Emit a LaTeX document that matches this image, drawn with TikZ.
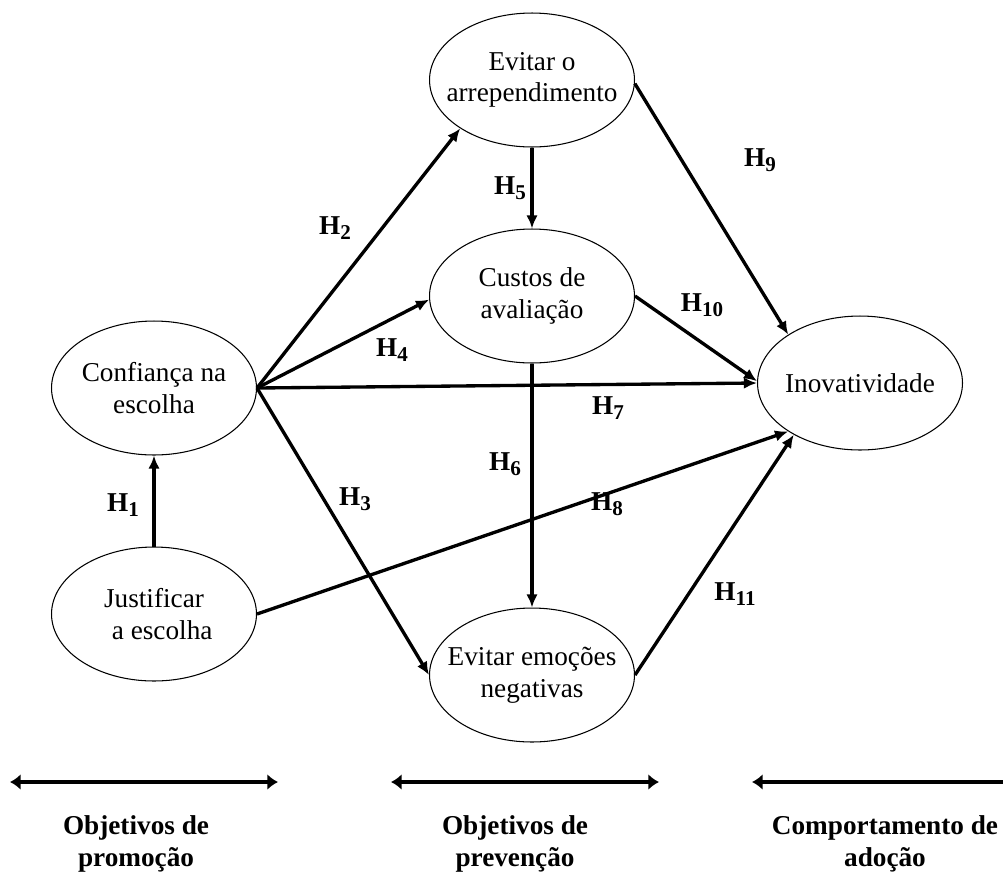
\documentclass[tikz,border=0pt]{standalone}
\usepackage{fontspec}
\setmainfont{Liberation Serif}
\usetikzlibrary{arrows.meta,shapes.geometric}
\newcommand{\hyp}[1]{\textbf{H\raisebox{-0.4ex}{\fontsize{12}{12}\selectfont #1}}}

\begin{document}
\begin{tikzpicture}[x=0.02cm,y=-0.02cm,
  font=\fontsize{15.5}{18}\selectfont,
  var/.style={draw,ellipse,line width=0.6pt,minimum width=4.1cm,minimum height=2.68cm,inner sep=0pt,
    label={[align=center,font=\fontsize{15.5}{18}\selectfont]center:#1}},
  hyparrow/.style={-{Latex[length=7.5pt,width=6.5pt]},line width=1.9pt},
  goaltip/.style={line width=2.2pt},
  goal/.style={align=center,font=\fontsize{15.5}{18}\selectfont\bfseries}]
\useasboundingbox (0,0) rectangle (1003,873);

% variables
\node[var={Evitar o\\arrependimento}] (arr) at (532,80) {};
\node[var={Custos de\\avaliação}] (cust) at (532,296) {};
\node[var={Confiança na\\escolha}] (conf) at (154,388) {};
\node[var={Justificar\\\hspace*{0.6em}a escolha}] (just) at (154,614) {};
\node[var={Evitar emoções\\negativas}] (emo) at (532,675) {};
\node[var={Inovatividade}] (inov) at (860,383) {};

% hypotheses
\draw[hyparrow] (just) -- (conf);
\draw[hyparrow] (conf.east) -- (arr.214);
\draw[hyparrow] (conf.east) -- (cust.182);
\draw[hyparrow] (conf.east) -- (inov.west);
\draw[hyparrow] (conf.east) -- (emo.west);
\draw[hyparrow] (just.east) -- (inov.214);
\draw[hyparrow] (arr) -- (cust);
\draw[hyparrow] (cust) -- (emo);
\draw[hyparrow] (arr.-2) -- (inov.146);
\draw[hyparrow] (cust.east) -- (inov.179);
\draw[hyparrow] (emo.east) -- (inov.218);

\node (h1) at (123,505) {\hyp{1}};
\node (h2) at (335,228) {\hyp{2}};
\node (h3) at (355,499) {\hyp{3}};
\node (h4) at (392,350) {\hyp{4}};
\node (h5) at (510,188) {\hyp{5}};
\node (h6) at (505,464) {\hyp{6}};
\node (h7) at (608,408) {\hyp{7}};
\node (h8) at (607,504) {\hyp{8}};
\node (h9) at (760,160) {\hyp{9}};
\node (h10) at (702,305) {\hyp{10}};
\node (h11) at (735,594) {\hyp{11}};

% goals
\coordinate (a1) at (10,782);
\coordinate (b1) at (278,782);
\coordinate (a2) at (391,782);
\coordinate (b2) at (659,782);
\coordinate (a3) at (752,782);
\coordinate (b3) at (1003,782);
\draw[goaltip,{Latex[length=6pt,width=9pt]}-{Latex[length=6pt,width=9pt]}] (a1) -- (b1);
\draw[goaltip,{Latex[length=6pt,width=9pt]}-{Latex[length=6pt,width=9pt]}] (a2) -- (b2);
\draw[goaltip,{Latex[length=6pt,width=9pt]}-] (a3) -- (b3);

\node[goal] (g1) at (136,844) {Objetivos de\\promoção};
\node[goal] (g2) at (515,844) {Objetivos de\\prevenção};
\node[goal] (g3) at (885,844) {Comportamento de\\adoção};
\end{tikzpicture}
\end{document}
